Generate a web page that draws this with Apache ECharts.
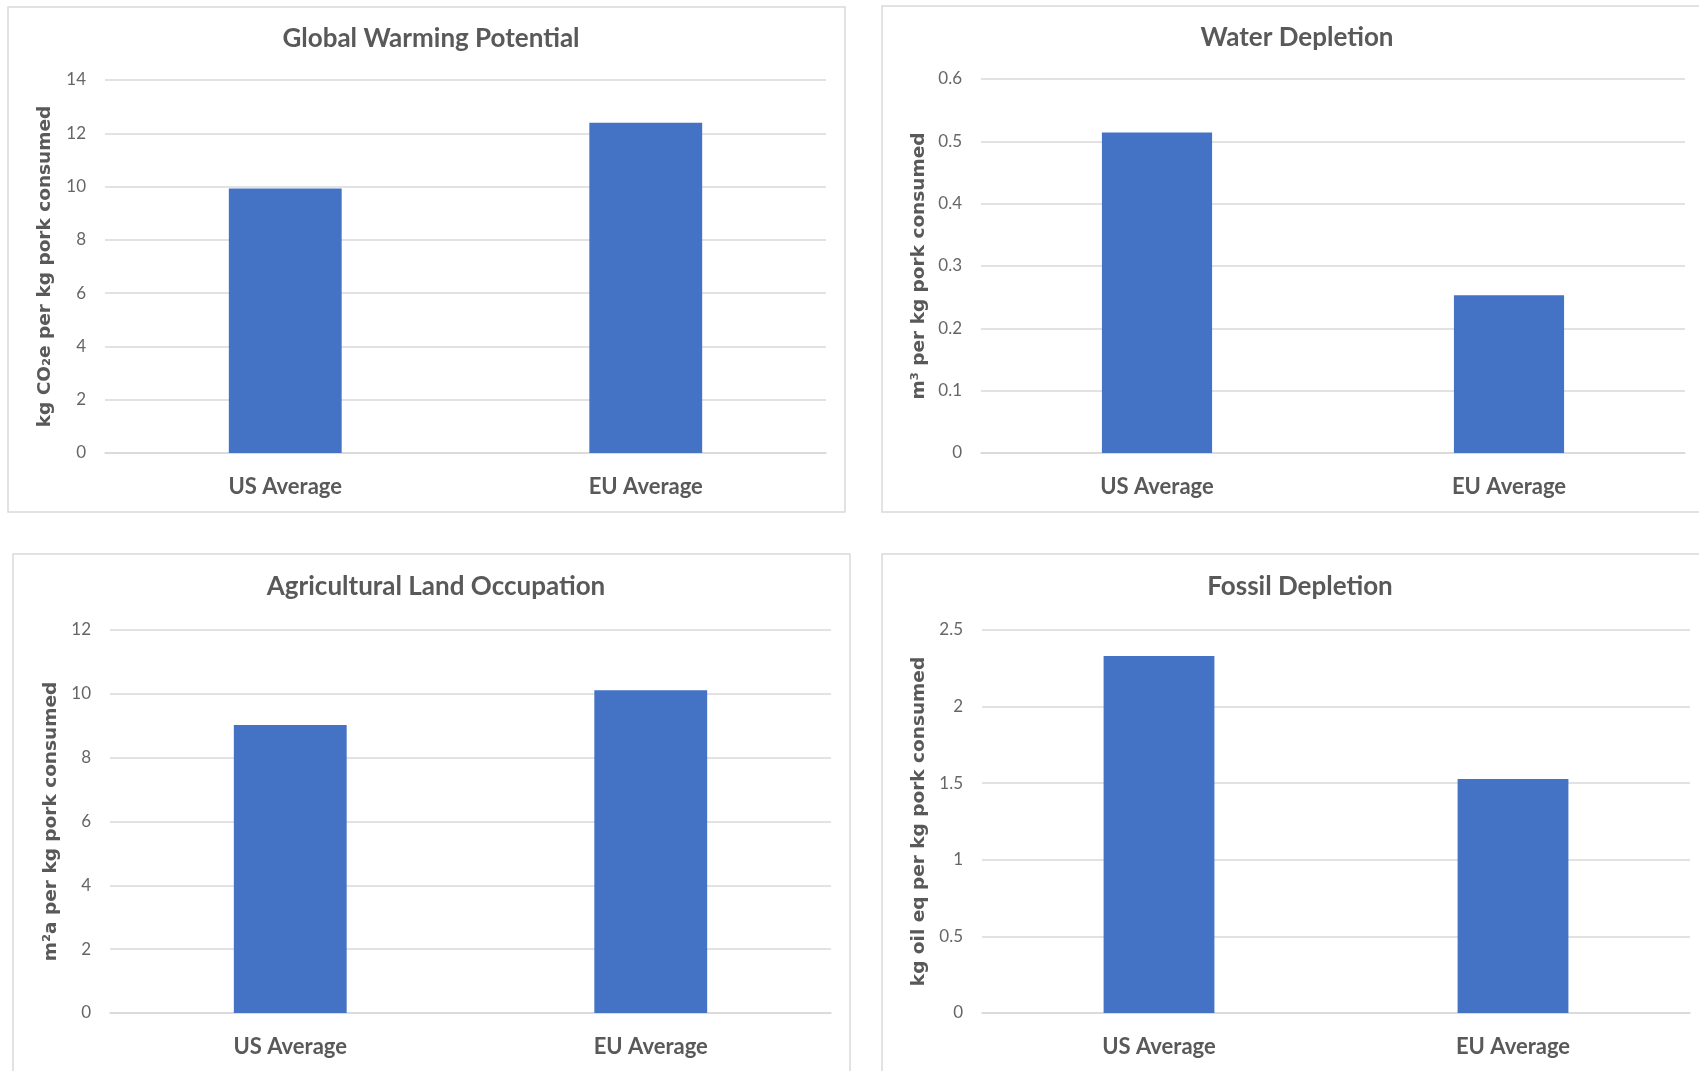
<!DOCTYPE html>
<html>
<head>
<meta charset="utf-8">
<script src="https://cdn.jsdelivr.net/npm/echarts@6/dist/echarts.min.js"></script>
<style>
  html, body { margin: 0; padding: 0; background: #fff; }
  #chart { width: 1699px; height: 1071px; }
</style>
</head>
<body>
<div id="chart"></div>
<script>
// Categories and impact values per kg pork consumed
const categories = ['US Average', 'EU Average'];
const gwpValues = [9.93, 12.4];        // kg CO2e
const waterValues = [0.514, 0.253];    // m3
const landValues = [9.02, 10.11];      // m2a
const fossilValues = [2.33, 1.527];    // kg oil eq

// Panel titles and y-axis names
const panelTitles = ['Global Warming Potential', 'Water Depletion', 'Agricultural Land Occupation', 'Fossil Depletion'];
const axisNames = ['kg CO\u2082e per kg pork consumed', 'm\u00B3 per kg pork consumed', 'm\u00B2a per kg pork consumed', 'kg oil eq per kg pork consumed'];

// Y-axis ranges [min, max, interval]
const gwpRange = [0, 14, 2];
const waterRange = [0, 0.6, 0.1];
const landRange = [0, 12, 2];
const fossilRange = [0, 2.5, 0.5];

const seriesValues = [gwpValues, waterValues, landValues, fossilValues];
const ranges = [gwpRange, waterRange, landRange, fossilRange];

const TEXT = '#595959';
const GRID_LINE = '#d9d9d9';
const BAR = '#4472C4';

const grids = [
  { left: 105, top: 80, width: 721, height: 373 },
  { left: 981, top: 79, width: 704, height: 374 },
  { left: 110, top: 630, width: 721, height: 383 },
  { left: 982, top: 630, width: 708, height: 383 }
];
const titlePos = [[426, 21], [1292, 20], [431, 569], [1295, 569]];
const nameGaps = [50, 52, 49, 53];
const boxes = [
  { x: 8, y: 7, width: 837, height: 505 },
  { x: 882, y: 6, width: 820, height: 506 },
  { x: 13, y: 554, width: 837, height: 520 },
  { x: 882, y: 554, width: 820, height: 520 }
];

const chart = echarts.init(document.getElementById('chart'));

chart.setOption({
  animation: false,
  backgroundColor: '#fff',
  graphic: boxes.map(b => ({
    type: 'rect', z: -10, silent: true,
    shape: b,
    style: { fill: '#fff', stroke: GRID_LINE, lineWidth: 1.5 }
  })),
  title: panelTitles.map((t, i) => ({
    text: t,
    left: titlePos[i][0],
    top: titlePos[i][1],
    textAlign: 'center',
    textStyle: { fontFamily: 'Lato', fontWeight: 'bold', fontSize: 26, color: TEXT }
  })),
  grid: grids.map(g => Object.assign({ containLabel: false }, g)),
  xAxis: grids.map((g, i) => ({
    type: 'category',
    gridIndex: i,
    data: categories,
    axisTick: { show: false },
    axisLine: { lineStyle: { color: GRID_LINE, width: 1.5 } },
    axisLabel: { margin: 23, fontFamily: 'Lato', fontWeight: 'bold', fontSize: 22, color: TEXT }
  })),
  yAxis: grids.map((g, i) => ({
    type: 'value',
    gridIndex: i,
    min: ranges[i][0],
    max: ranges[i][1],
    interval: ranges[i][2],
    name: axisNames[i],
    nameLocation: 'middle',
    nameGap: nameGaps[i],
    nameTextStyle: { fontFamily: 'DejaVu Sans', fontWeight: 'bold', fontSize: 18.5, color: TEXT },
    axisLine: { show: false },
    axisTick: { show: false },
    axisLabel: { margin: 19, fontFamily: 'Lato', fontSize: 17, color: '#666' },
    splitLine: { lineStyle: { color: GRID_LINE, width: 1.5 } }
  })),
  series: seriesValues.map((vals, i) => ({
    type: 'bar',
    xAxisIndex: i,
    yAxisIndex: i,
    data: vals,
    barWidth: '31.3%',
    itemStyle: { color: BAR },
    silent: true
  }))
});
</script>
</body>
</html>
